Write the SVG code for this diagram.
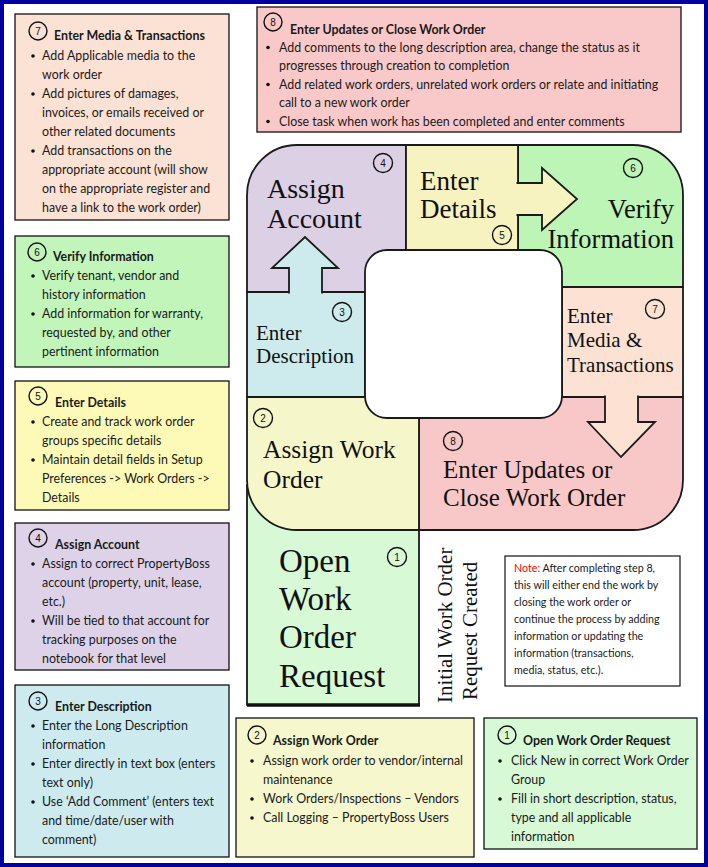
<svg xmlns="http://www.w3.org/2000/svg" width="708" height="867" viewBox="0 0 708 867">
<style>
.box{stroke:#111;stroke-width:1.3}
.t{font-family:Lato,"Liberation Sans",sans-serif;font-size:12.4px;fill:#1a1a1a}
.h{font-weight:bold}
.num{font-family:"Liberation Sans",sans-serif;font-size:10px;fill:#111;text-anchor:middle}
.nc{fill:none;stroke:#111;stroke-width:1.4}
.bul{fill:#111}
.piece{stroke:#1a1a1a;stroke-width:1.8;stroke-linejoin:round}
.arrow{stroke:#1a1a1a;stroke-width:1.8;stroke-linejoin:miter}
.big{font-family:"Liberation Serif","Times New Roman",serif;fill:#111}
.nt{font-family:Lato,"Liberation Sans",sans-serif;font-size:10.7px;fill:#1a1a1a}
</style>
<rect x="0" y="0" width="708" height="867" fill="#fff"/>
<rect x="2" y="2" width="704" height="863" fill="none" stroke="#0000a0" stroke-width="4"/>

<!-- main cycle pieces -->
<g id="step1">
<path class="piece" d="M247,485 L419,485 L419,705 L247,705 Z" fill="#d7f9d5"/>
<line x1="247" y1="705" x2="420" y2="705" stroke="#111" stroke-width="3.5"/>
<text class="big" font-size="33" x="279" y="572">Open</text>
<text class="big" font-size="33" x="279" y="610">Work</text>
<text class="big" font-size="33" x="279" y="648">Order</text>
<text class="big" font-size="33" x="279" y="687">Request</text>
<circle class="nc" cx="397" cy="557" r="9.5"/><text class="num" x="397" y="560.5">1</text>
</g>
<g id="step4">
<path class="piece" d="M247,292 L247,195 A50,50 0 0 1 297,145 L406,145 L406,292 Z" fill="#dcd0e5"/>
<text class="big" font-size="28" x="267" y="198">Assign</text>
<text class="big" font-size="28" x="267" y="228">Account</text>
<circle class="nc" cx="383" cy="163" r="9.5"/><text class="num" x="383" y="166.5">4</text>
</g>
<g id="step6">
<path class="piece" d="M518,145 L633,145 A50,50 0 0 1 683,195 L683,287 L518,287 Z" fill="#bdf5b6"/>
<text class="big" font-size="26.5" x="674" y="218" text-anchor="end">Verify</text>
<text class="big" font-size="26.5" x="674" y="248" text-anchor="end">Information</text>
<circle class="nc" cx="633" cy="168" r="9.5"/><text class="num" x="633" y="171.5">6</text>
</g>
<g id="step5">
<path class="piece" d="M406,145 L518,145 L518,250 L406,250 Z" fill="#f7f3c1"/>
<text class="big" font-size="27" x="420" y="190">Enter</text>
<text class="big" font-size="27" x="420" y="218">Details</text>
<circle class="nc" cx="502" cy="235" r="9.5"/><text class="num" x="502" y="238.5">5</text>
</g>
<g id="step8">
<path class="piece" d="M419,397 L683,397 L683,480 A50,50 0 0 1 633,530 L419,530 Z" fill="#f8c8c8"/>
<text class="big" font-size="25" x="443" y="478">Enter Updates or</text>
<text class="big" font-size="25" x="443" y="506">Close Work Order</text>
<circle class="nc" cx="453" cy="441" r="9.5"/><text class="num" x="453" y="444.5">8</text>
</g>
<g id="step7">
<path class="piece" d="M562,287 L683,287 L683,397 L562,397 Z" fill="#fde1d2"/>
<text class="big" font-size="21" x="567" y="323">Enter</text>
<text class="big" font-size="21" x="567" y="347">Media &amp;</text>
<text class="big" font-size="21" x="567" y="372">Transactions</text>
<circle class="nc" cx="655" cy="309" r="9.5"/><text class="num" x="655" y="312.5">7</text>
</g>
<g id="step2">
<path class="piece" d="M247,397 L419,397 L419,530 L297,530 A50,50 0 0 1 247,480 Z" fill="#f5f7cb"/>
<text class="big" font-size="25.5" x="263" y="458">Assign Work</text>
<text class="big" font-size="25.5" x="263" y="488">Order</text>
<circle class="nc" cx="263" cy="418" r="9.5"/><text class="num" x="263" y="421.5">2</text>
</g>
<g id="step3">
<path class="piece" d="M247,292 L365,292 L365,397 L247,397 Z" fill="#cdeaed"/>
<text class="big" font-size="21" x="256" y="340">Enter</text>
<text class="big" font-size="21" x="256" y="363">Description</text>
<circle class="nc" cx="342" cy="312" r="9.5"/><text class="num" x="342" y="315.5">3</text>
</g>
<rect id="hole" x="365" y="250" width="197" height="168" rx="22" fill="#fff" stroke="#1a1a1a" stroke-width="1.8"/>

<g id="connectors">
<path class="arrow" d="M289,293.5 L289,268 L272,268 L305,237 L338,268 L322,268 L322,293.5" fill="#cdeaed"/>
<path class="arrow" d="M516.5,183 L542,183 L542,168 L577,199 L542,230 L542,215 L516.5,215" fill="#f7f3c1"/>
<path class="arrow" d="M605,395.5 L605,422 L588,422 L621,457 L655,422 L638,422 L638,395.5" fill="#fde1d2"/>
</g>

<g id="caption">
<text class="big" font-size="21" transform="translate(452,703) rotate(-90)">Initial Work Order</text>
<text class="big" font-size="21" transform="translate(477,700) rotate(-90)">Request Created</text>
</g>

<!-- info boxes -->
<g id="info7">
<rect class="box" x="15" y="14" width="214" height="206" fill="#fce2d4"/>
<circle class="nc" cx="38" cy="31" r="9"/><text class="num" x="38" y="34.5">7</text>
<text class="t h" x="54" y="40">Enter Media &amp; Transactions</text>
<circle class="bul" cx="33" cy="56" r="1.8"/><circle class="bul" cx="33" cy="94" r="1.8"/><circle class="bul" cx="33" cy="151" r="1.8"/>
<text class="t" x="42" y="60">Add Applicable media to the</text>
<text class="t" x="42" y="79">work order</text>
<text class="t" x="42" y="98">Add pictures of damages,</text>
<text class="t" x="42" y="117">invoices, or emails received or</text>
<text class="t" x="42" y="136">other related documents</text>
<text class="t" x="42" y="155">Add transactions on the</text>
<text class="t" x="42" y="174">appropriate account (will show</text>
<text class="t" x="42" y="193">on the appropriate register and</text>
<text class="t" x="42" y="212">have a link to the work order)</text>
</g>
<g id="info8">
<rect class="box" x="257" y="7" width="424" height="125" fill="#f9c9c9"/>
<circle class="nc" cx="273" cy="22" r="9"/><text class="num" x="273" y="25.5">8</text>
<text class="t h" x="290" y="34">Enter Updates or Close Work Order</text>
<circle class="bul" cx="268" cy="47.5" r="1.8"/><circle class="bul" cx="268" cy="84.5" r="1.8"/><circle class="bul" cx="268" cy="121.5" r="1.8"/>
<text class="t" x="279" y="51.5">Add comments to the long description area, change the status as it</text>
<text class="t" x="279" y="70">progresses through creation to completion</text>
<text class="t" x="279" y="88.5">Add related work orders, unrelated work orders or relate and initiating</text>
<text class="t" x="279" y="107">call to a new work order</text>
<text class="t" x="279" y="125.5">Close task when work has been completed and enter comments</text>
</g>
<g id="info6">
<rect class="box" x="15" y="236" width="214" height="131" fill="#c2f5ba"/>
<circle class="nc" cx="37" cy="252" r="9"/><text class="num" x="37" y="255.5">6</text>
<text class="t h" x="53" y="261">Verify Information</text>
<circle class="bul" cx="33" cy="276" r="1.8"/><circle class="bul" cx="33" cy="314" r="1.8"/>
<text class="t" x="42" y="280">Verify tenant, vendor and</text>
<text class="t" x="42" y="299">history information</text>
<text class="t" x="42" y="318">Add information for warranty,</text>
<text class="t" x="42" y="337">requested by, and other</text>
<text class="t" x="42" y="356">pertinent information</text>
</g>
<g id="info5">
<rect class="box" x="15" y="381" width="214" height="129" fill="#fdfab8"/>
<circle class="nc" cx="38" cy="396" r="9"/><text class="num" x="38" y="399.5">5</text>
<text class="t h" x="55" y="407">Enter Details</text>
<circle class="bul" cx="33" cy="422" r="1.8"/><circle class="bul" cx="33" cy="460" r="1.8"/>
<text class="t" x="42" y="426">Create and track work order</text>
<text class="t" x="42" y="445">groups specific details</text>
<text class="t" x="42" y="464">Maintain detail fields in Setup</text>
<text class="t" x="42" y="483">Preferences -&gt; Work Orders -&gt;</text>
<text class="t" x="42" y="502">Details</text>
</g>
<g id="info4">
<rect class="box" x="15" y="523" width="214" height="147" fill="#ded2e8"/>
<circle class="nc" cx="38" cy="538" r="9"/><text class="num" x="38" y="541.5">4</text>
<text class="t h" x="55" y="549">Assign Account</text>
<circle class="bul" cx="33" cy="564" r="1.8"/><circle class="bul" cx="33" cy="621" r="1.8"/>
<text class="t" x="42" y="568">Assign to correct PropertyBoss</text>
<text class="t" x="42" y="587">account (property, unit, lease,</text>
<text class="t" x="42" y="606">etc.)</text>
<text class="t" x="42" y="625">Will be tied to that account for</text>
<text class="t" x="42" y="644">tracking purposes on the</text>
<text class="t" x="42" y="663">notebook for that level</text>
</g>
<g id="info3">
<rect class="box" x="15" y="685" width="214" height="172" fill="#cdebef"/>
<circle class="nc" cx="38" cy="701" r="9"/><text class="num" x="38" y="704.5">3</text>
<text class="t h" x="55" y="711">Enter Description</text>
<circle class="bul" cx="33" cy="726" r="1.8"/><circle class="bul" cx="33" cy="764" r="1.8"/><circle class="bul" cx="33" cy="802" r="1.8"/>
<text class="t" x="42" y="730">Enter the Long Description</text>
<text class="t" x="42" y="749">information</text>
<text class="t" x="42" y="768">Enter directly in text box (enters</text>
<text class="t" x="42" y="787">text only)</text>
<text class="t" x="42" y="806">Use ‘Add Comment’ (enters text</text>
<text class="t" x="42" y="825">and time/date/user with</text>
<text class="t" x="42" y="844">comment)</text>
</g>
<g id="info2">
<rect class="box" x="236" y="718" width="238" height="139" fill="#f6f7cd"/>
<circle class="nc" cx="257" cy="735" r="9"/><text class="num" x="257" y="738.5">2</text>
<text class="t h" x="273" y="745">Assign Work Order</text>
<circle class="bul" cx="252" cy="761" r="1.8"/><circle class="bul" cx="252" cy="799" r="1.8"/><circle class="bul" cx="252" cy="818" r="1.8"/>
<text class="t" x="263" y="765">Assign work order to vendor/internal</text>
<text class="t" x="263" y="784">maintenance</text>
<text class="t" x="263" y="803">Work Orders/Inspections – Vendors</text>
<text class="t" x="263" y="822">Call Logging – PropertyBoss Users</text>
</g>
<g id="info1">
<rect class="box" x="484" y="718" width="213" height="131" fill="#d8f9d6"/>
<circle class="nc" cx="507" cy="735" r="9"/><text class="num" x="507" y="738.5">1</text>
<text class="t h" x="523" y="745">Open Work Order Request</text>
<circle class="bul" cx="500" cy="761" r="1.8"/><circle class="bul" cx="500" cy="799" r="1.8"/>
<text class="t" x="511" y="765">Click New in correct Work Order</text>
<text class="t" x="511" y="784">Group</text>
<text class="t" x="511" y="803">Fill in short description, status,</text>
<text class="t" x="511" y="822">type and all applicable</text>
<text class="t" x="511" y="841">information</text>
</g>
<g id="note">
<rect x="505" y="556" width="175" height="130" fill="#fff" stroke="#111" stroke-width="1.2"/>
<text class="nt" x="514" y="572"><tspan fill="#ff0000">Note:</tspan> After completing step 8,</text>
<text class="nt" x="514" y="589">this will either end the work by</text>
<text class="nt" x="514" y="606">closing the work order or</text>
<text class="nt" x="514" y="623">continue the process by adding</text>
<text class="nt" x="514" y="640">information or updating the</text>
<text class="nt" x="514" y="657">information (transactions,</text>
<text class="nt" x="514" y="674">media, status, etc.).</text>
</g>
</svg>
